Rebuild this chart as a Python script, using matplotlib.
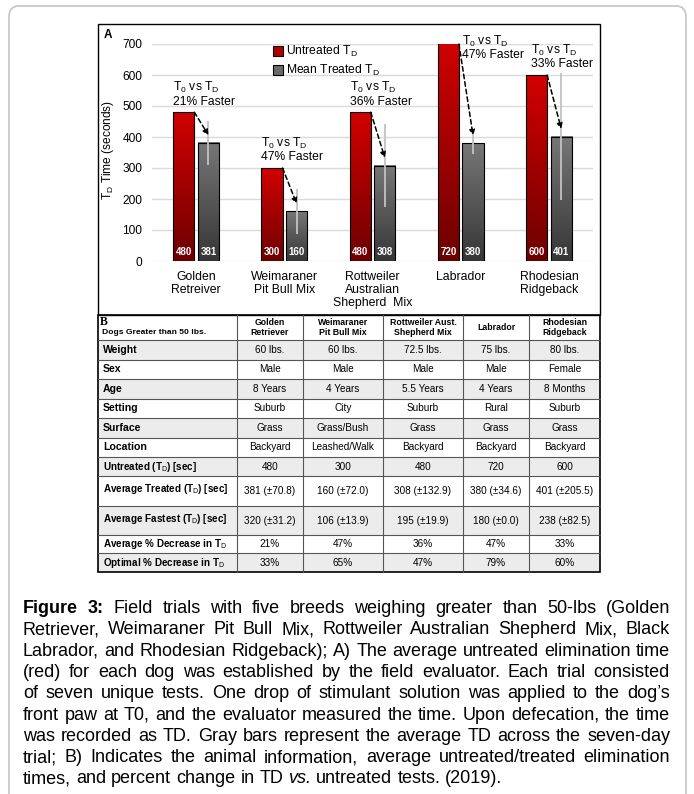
import numpy as np
import matplotlib.pyplot as plt
from matplotlib.colors import LinearSegmentedColormap
from matplotlib.patches import Rectangle, FancyBboxPatch, Patch

plt.rcParams['font.family'] = ['Liberation Sans', 'DejaVu Sans']
plt.rcParams['mathtext.fontset'] = 'custom'
plt.rcParams['mathtext.rm'] = 'Liberation Sans'
plt.rcParams['mathtext.it'] = 'Liberation Sans:italic'
plt.rcParams['mathtext.bf'] = 'Liberation Sans:bold'

# ---- data: panel A ----
breeds = ['Golden\nRetreiver', 'Weimaraner\nPit Bull Mix',
          'Rottweiler\nAustralian\nShepherd  Mix', 'Labrador',
          'Rhodesian\nRidgeback']
untreated = [480, 300, 480, 720, 600]
treated = [381, 160, 308, 380, 401]
treated_sd = [70.8, 72.0, 132.9, 34.6, 205.5]
pct_faster = [21, 47, 36, 47, 33]

# ---- data: panel B ----
table_cols = ['Golden\nRetriever', 'Weimaraner\nPit Bull Mix',
              'Rottweiler Aust.\nShepherd Mix', 'Labrador',
              'Rhodesian\nRidgeback']
weight = ['60 lbs.', '60 lbs.', '72.5 lbs.', '75 lbs.', '80 lbs.']
sex = ['Male', 'Male', 'Male', 'Male', 'Female']
age = ['8 Years', '4 Years', '5.5 Years', '4 Years', '8 Months']
setting = ['Suburb', 'City', 'Suburb', 'Rural', 'Suburb']
surface = ['Grass', 'Grass/Bush', 'Grass', 'Grass', 'Grass']
location = ['Backyard', 'Leashed/Walk', 'Backyard', 'Backyard', 'Backyard']
fastest = [320, 106, 195, 180, 238]
fastest_sd = [31.2, 13.9, 19.9, 0.0, 82.5]
optimal_pct = [33, 65, 47, 79, 60]

TD = 'T$_\\mathrm{D}$'
row_labels = ['Weight', 'Sex', 'Age', 'Setting', 'Surface', 'Location',
              f'Untreated ({TD}) [sec]', f'Average Treated ({TD}) [sec]',
              f'Average Fastest ({TD}) [sec]', f'Average % Decrease in {TD}',
              f'Optimal % Decrease in {TD}']
row_values = [weight, sex, age, setting, surface, location,
              [str(v) for v in untreated],
              [f'{t} (\u00b1{s:.1f})' for t, s in zip(treated, treated_sd)],
              [f'{t} (\u00b1{s:.1f})' for t, s in zip(fastest, fastest_sd)],
              [f'{p}%' for p in pct_faster],
              [f'{p}%' for p in optimal_pct]]

caption_lines = [
    'Figure 3: Field trials with five breeds weighing greater than 50-lbs (Golden',
    'Retriever, Weimaraner Pit Bull Mix, Rottweiler Australian Shepherd Mix, Black',
    'Labrador, and Rhodesian Ridgeback); A) The average untreated elimination time',
    '(red) for each dog was established by the field evaluator. Each trial consisted',
    'of seven unique tests. One drop of stimulant solution was applied to the dog\u2019s',
    'front paw at T0, and the evaluator measured the time. Upon defecation, the time',
    'was recorded as TD. Gray bars represent the average TD across the seven-day',
    'trial; B) Indicates the animal information, average untreated/treated elimination',
    'times, and percent change in TD vs. untreated tests. (2019).',
]

W, H = 694, 794


def X(px):
    return px / W


def Y(py):
    return 1 - py / H


fig = plt.figure(figsize=(W / 100, H / 100), dpi=100)
fig.patch.set_facecolor('white')

# outer rounded frame
fig.patches.append(FancyBboxPatch((X(9), Y(830)), X(686) - X(9), Y(6) - Y(830),
                                  boxstyle='round,pad=0,rounding_size=0.014',
                                  transform=fig.transFigure, fill=False,
                                  edgecolor='#c4c4c4', lw=1.2))

# panel A frame
fig.patches.append(Rectangle((X(98), Y(315)), X(600) - X(98), Y(24) - Y(315),
                             transform=fig.transFigure, fill=False,
                             edgecolor='black', lw=1.0))

ax = fig.add_axes([X(152), Y(261), X(593) - X(152), Y(44) - Y(261)])
ax.set_facecolor('none')
x = np.arange(len(untreated))
bw = 0.24
off = 0.14
ymax = 700

red_cmap = LinearSegmentedColormap.from_list('redg', ['#6e0000', '#d20000'])
gray_cmap = LinearSegmentedColormap.from_list('grayg', ['#363636', '#777777'])
grad = np.linspace(0, 1, 256).reshape(-1, 1)


def grad_bars(xs, vals, cmap):
    bars = ax.bar(xs, vals, bw, facecolor='none', edgecolor='black', lw=0.8, zorder=3)
    for b in bars:
        x0 = b.get_x()
        # bars are rectangles, so the image extent itself is the bar shape
        ax.imshow(grad, cmap=cmap, origin='lower', aspect='auto',
                  extent=(x0, x0 + bw, 0, b.get_height()), zorder=2)
    return bars


grad_bars(x - off, untreated, red_cmap)
grad_bars(x + off, treated, gray_cmap)
ax.errorbar(x + off, treated, yerr=treated_sd, fmt='none', ecolor='#c2c2c2',
            elinewidth=1.3, capsize=0, zorder=4)

for i in range(len(x)):
    ax.text(x[i] - off, 28, str(untreated[i]), color='white', fontweight='bold',
            fontsize=7, ha='center', va='center', zorder=5)
    ax.text(x[i] + off, 28, str(treated[i]), color='white', fontweight='bold',
            fontsize=7, ha='center', va='center', zorder=5)

    top = min(untreated[i], ymax)
    ax.annotate('', xy=(x[i] + off, treated[i] + 25),
                xytext=(x[i] - off + bw / 2, top),
                arrowprops=dict(arrowstyle='-|>', ls=(0, (3, 2)), lw=1.1,
                                color='black', mutation_scale=8,
                                shrinkA=0, shrinkB=0),
                zorder=6, annotation_clip=False)
    label = f'T$_0$ vs {TD}\n{pct_faster[i]}% Faster'
    if untreated[i] > ymax:
        ax.text(x[i] - off + bw / 2 + 0.03, 645, label, ha='left', va='bottom',
                fontsize=8.7, linespacing=1.05, clip_on=False, zorder=6)
    else:
        ax.text(x[i] - off - bw / 2 + (0.06 if i == len(x) - 1 else 0),
                untreated[i] + 15, label, ha='left',
                va='bottom', fontsize=8.7, linespacing=1.05, clip_on=False,
                zorder=6)

ax.set_xlim(-0.5, len(x) - 0.5)
ax.set_ylim(0, ymax)
ax.set_yticks(range(0, 701, 100))
ax.set_xticks(x, breeds)
ax.grid(axis='y', color='#dadada', lw=1.0)
ax.set_axisbelow(True)
for s in ax.spines.values():
    s.set_visible(False)
ax.tick_params(axis='y', length=0, pad=7, labelsize=8.6)
ax.tick_params(axis='x', length=0, pad=7.5, labelsize=8.8)
for lab in ax.get_xticklabels():
    lab.set_linespacing(1.08)
fig.text(X(108), Y(150), f'{TD} Time (seconds)', rotation=90, ha='center',
         va='center', fontsize=8.6)
fig.text(X(104), Y(35), 'A', fontweight='bold', fontsize=8.5, ha='left', va='center')

handles = [Patch(facecolor='#b00000', edgecolor='black', lw=0.8, label=f'Untreated {TD}'),
           Patch(facecolor='#6a6a6a', edgecolor='black', lw=0.8, label=f'Mean Treated {TD}')]
fig.legend(handles=handles, loc='upper left', bbox_to_anchor=(X(273), Y(44)),
           frameon=False, fontsize=8.7, handlelength=0.8, handleheight=0.9,
           handletextpad=0.3, labelspacing=0.3, borderpad=0, borderaxespad=0)

# ---- panel B table ----
cols_px = [98, 237, 303, 383, 463, 529, 600]
rows_px = [315, 340, 359.5, 379, 398.5, 418, 437.5, 457, 476, 506, 535, 553, 572]

for r in range(len(row_labels)):
    y0, y1 = rows_px[r + 1], rows_px[r + 2]
    if r % 2 == 0:
        fig.patches.append(Rectangle((X(cols_px[0]), Y(y1)), X(cols_px[-1]) - X(cols_px[0]),
                                     Y(y0) - Y(y1), transform=fig.transFigure,
                                     facecolor='#ececec', edgecolor='none'))
    yc = (y0 + y1) / 2
    big = r < 6
    fig.text(X(103), Y(yc - (2 if y1 - y0 > 25 else 0)), row_labels[r],
             fontweight='bold', fontsize=7.6 if big else 7.1, ha='left', va='center')
    for c in range(len(table_cols)):
        xc = (cols_px[c + 1] + cols_px[c + 2]) / 2
        fig.text(X(xc), Y(yc), row_values[r][c], fontsize=7.2, ha='center', va='center')

for c in range(len(table_cols)):
    xc = (cols_px[c + 1] + cols_px[c + 2]) / 2
    fig.text(X(xc), Y((rows_px[0] + rows_px[1]) / 2), table_cols[c], fontweight='bold',
             fontsize=6.3, ha='center', va='center', linespacing=1.15)
fig.text(X(100), Y(322), 'B', family='Liberation Serif', fontweight='bold',
         fontsize=8.5, ha='left', va='center')
fig.text(X(102), Y(333), 'Dogs Greater than 50 lbs.', fontweight='bold',
         fontsize=6.1, ha='left', va='center')

for xp in cols_px[1:-1]:
    fig.add_artist(plt.Line2D([X(xp), X(xp)], [Y(rows_px[0]), Y(rows_px[-1])],
                              color='#555555', lw=0.8))
for yp in rows_px[1:-1]:
    fig.add_artist(plt.Line2D([X(cols_px[0]), X(cols_px[-1])], [Y(yp), Y(yp)],
                              color='#555555', lw=0.8))
fig.patches.append(Rectangle((X(cols_px[0]), Y(rows_px[-1])), X(cols_px[-1]) - X(cols_px[0]),
                             Y(rows_px[0]) - Y(rows_px[-1]), transform=fig.transFigure,
                             fill=False, edgecolor='black', lw=1.2))

# ---- justified caption ----
renderer = fig.canvas.get_renderer()
left, right = 23, 670


def word_style(li, w):
    if li == 0 and w in ('Figure', '3:'):
        return 'bold', 'normal'
    if li == len(caption_lines) - 1 and w == 'vs.':
        return 'normal', 'italic'
    return 'normal', 'normal'


def measure(w, size, weight, style):
    t = fig.text(0, 0, w, fontsize=size, fontweight=weight, fontstyle=style)
    wd = t.get_window_extent(renderer).width
    t.remove()
    return wd


size = 13.0
while size > 8:
    space = measure('a a', size, 'normal', 'normal') - measure('aa', size, 'normal', 'normal')
    fits = True
    for li, line in enumerate(caption_lines[:-1]):
        words = line.split()
        tot = sum(measure(w, size, *word_style(li, w)) for w in words)
        if (right - left - tot) / (len(words) - 1) < 0.75 * space:
            fits = False
            break
    if fits:
        break
    size -= 0.25

base0, step = 613, 21.3
for li, line in enumerate(caption_lines):
    words = line.split()
    widths = [measure(w, size, *word_style(li, w)) for w in words]
    if li < len(caption_lines) - 1:
        gap = (right - left - sum(widths)) / (len(words) - 1)
    else:
        gap = space
    xp = left
    for w, wd in zip(words, widths):
        weight, style = word_style(li, w)
        fig.text(X(xp), Y(base0 + li * step), w, fontsize=size, fontweight=weight,
                 fontstyle=style, ha='left', va='baseline')
        xp += wd + gap

fig.savefig('out.png', dpi=100)
